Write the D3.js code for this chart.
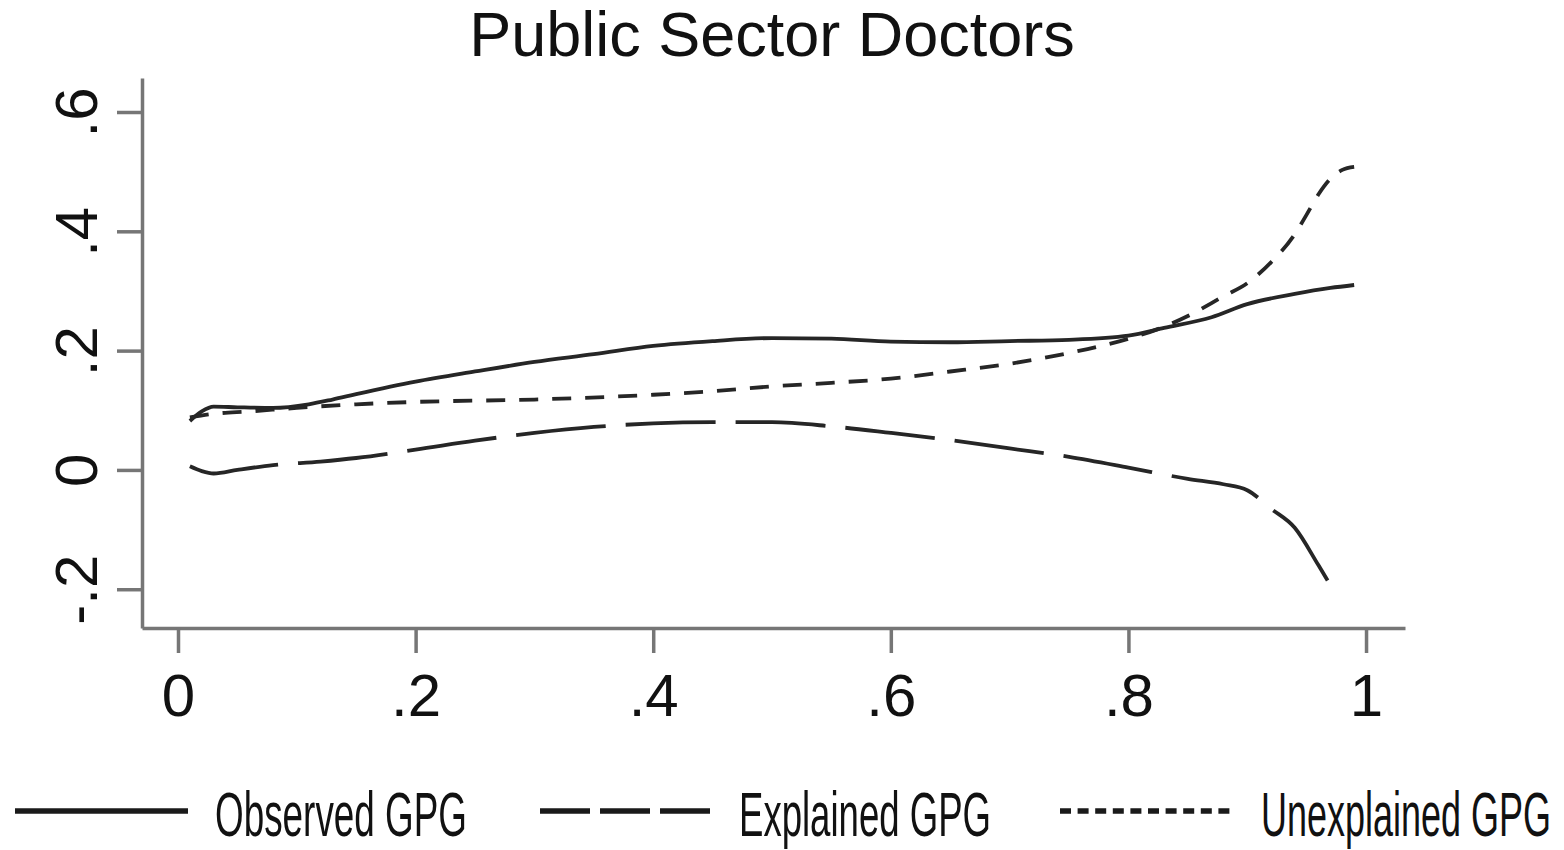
<!DOCTYPE html>
<html>
<head>
<meta charset="utf-8">
<script src="https://cdn.jsdelivr.net/npm/d3@7"></script>
<style>
  html, body { margin: 0; padding: 0; background: #fff; }
  svg { display: block; font-family: "Liberation Sans", Arial, sans-serif; }
</style>
</head>
<body>
<svg id="chart" width="1564" height="850"></svg>
<script>
// ---- Data ----
const title = "Public Sector Doctors";

const obsX = [0.01, 0.02, 0.03, 0.05, 0.08, 0.11, 0.13, 0.15, 0.2, 0.25, 0.3, 0.35, 0.4, 0.45, 0.5, 0.55, 0.6, 0.65, 0.7, 0.75, 0.8, 0.83, 0.87, 0.9, 0.94, 0.97, 0.99];
const obsY = [0.082, 0.098, 0.106, 0.105, 0.104, 0.110, 0.118, 0.127, 0.148, 0.165, 0.181, 0.194, 0.208, 0.216, 0.221, 0.220, 0.215, 0.214, 0.216, 0.218, 0.225, 0.238, 0.256, 0.278, 0.295, 0.305, 0.310];

const expX = [0.01, 0.02, 0.03, 0.05, 0.08, 0.12, 0.15, 0.2, 0.25, 0.3, 0.35, 0.4, 0.45, 0.5, 0.55, 0.6, 0.65, 0.7, 0.75, 0.8, 0.85, 0.88, 0.9, 0.92, 0.94, 0.96, 0.975];
const expY = [0.006, -0.002, -0.006, 0.000, 0.008, 0.014, 0.020, 0.034, 0.049, 0.062, 0.072, 0.078, 0.080, 0.080, 0.073, 0.062, 0.050, 0.036, 0.022, 0.004, -0.015, -0.024, -0.034, -0.065, -0.097, -0.160, -0.210];

const unexpX = [0.01, 0.03, 0.06, 0.1, 0.15, 0.2, 0.3, 0.4, 0.45, 0.5, 0.55, 0.6, 0.65, 0.7, 0.75, 0.8, 0.83, 0.85, 0.88, 0.9, 0.92, 0.94, 0.95, 0.96, 0.97, 0.98, 0.99];
const unexpY = [0.088, 0.094, 0.098, 0.104, 0.110, 0.114, 0.118, 0.126, 0.132, 0.140, 0.146, 0.153, 0.165, 0.178, 0.196, 0.220, 0.240, 0.258, 0.291, 0.313, 0.348, 0.395, 0.428, 0.462, 0.488, 0.503, 0.508];

const xTicks = [0, 0.2, 0.4, 0.6, 0.8, 1];
const xTickLabels = ["0", ".2", ".4", ".6", ".8", "1"];
const yTicks = [-0.2, 0, 0.2, 0.4, 0.6];
const yTickLabels = ["-.2", "0", ".2", ".4", ".6"];

const seriesNames = ["Observed GPG", "Explained GPG", "Unexplained GPG"];

// ---- Layout ----
const svg = d3.select("#chart");
const x = d3.scaleLinear().domain([-0.0303, 1.0328]).range([142, 1405]);
const y = d3.scaleLinear().domain([-0.265, 0.657]).range([628, 78]);

const axisColor = "#767676";
const inkColor = "#111";
const lineColor = "#262626";

// Title
svg.append("text")
  .attr("x", 772).attr("y", 56)
  .attr("text-anchor", "middle")
  .attr("font-size", 63)
  .attr("fill", inkColor)
  .text(title);

// X axis
const xAxis = d3.axisBottom(x)
  .tickValues(xTicks)
  .tickFormat((d, i) => xTickLabels[i])
  .tickSize(25)
  .tickSizeOuter(0);
const gx = svg.append("g").attr("transform", "translate(0,628)").call(xAxis);
gx.select(".domain").attr("stroke", axisColor).attr("stroke-width", 3.5);
gx.selectAll(".tick line").attr("stroke", axisColor).attr("stroke-width", 3.5);
gx.selectAll(".tick text")
  .attr("font-size", 60)
  .attr("fill", inkColor)
  .attr("font-family", "Liberation Sans, Arial, sans-serif")
  .attr("dy", null)
  .attr("y", 88);

// Y axis
const yAxis = d3.axisLeft(y)
  .tickValues(yTicks)
  .tickFormat((d, i) => yTickLabels[i])
  .tickSize(25)
  .tickSizeOuter(0);
const gy = svg.append("g").attr("transform", "translate(142,0)").call(yAxis);
gy.select(".domain").attr("stroke", axisColor).attr("stroke-width", 3.5);
gy.selectAll(".tick line").attr("stroke", axisColor).attr("stroke-width", 3.5);
gy.selectAll(".tick text")
  .attr("font-size", 60)
  .attr("fill", inkColor)
  .attr("font-family", "Liberation Sans, Arial, sans-serif")
  .attr("x", -45)
  .attr("y", 0)
  .attr("dy", null)
  .attr("text-anchor", "middle")
  .attr("transform", "rotate(-90 -45 0)");

// Lines
const line = d3.line()
  .x(d => x(d[0]))
  .y(d => y(d[1]))
  .curve(d3.curveMonotoneX);

const series = [
  { xs: obsX, ys: obsY, dash: null },
  { xs: expX, ys: expY, dash: "90,20" },
  { xs: unexpX, ys: unexpY, dash: "19,14" }
];

series.forEach(s => {
  const pts = s.xs.map((v, i) => [v, s.ys[i]]);
  svg.append("path")
    .datum(pts)
    .attr("d", line)
    .attr("fill", "none")
    .attr("stroke", lineColor)
    .attr("stroke-width", 3.8)
    .attr("stroke-linejoin", "round")
    .attr("stroke-dasharray", s.dash);
});

// Legend (condensed text via horizontal scale)
const legendItems = [
  { x1: 15, x2: 188, dash: null, tx: 215, tw: 252 },
  { x1: 540, x2: 710, dash: "50,10", tx: 739, tw: 252 },
  { x1: 1060, x2: 1230, dash: "11,6.6", tx: 1261, tw: 290 }
];
legendItems.forEach((it, i) => {
  svg.append("line")
    .attr("x1", it.x1).attr("x2", it.x2)
    .attr("y1", 811).attr("y2", 811)
    .attr("stroke", "#1a1a1a")
    .attr("stroke-width", 5.5)
    .attr("stroke-dasharray", it.dash);
  const t = svg.append("text")
    .attr("x", 0).attr("y", 0)
    .attr("font-size", 63)
    .attr("fill", inkColor)
    .text(seriesNames[i]);
  const natural = t.node().getComputedTextLength();
  const sx = it.tw / natural;
  t.attr("transform", `translate(${it.tx},836) scale(${sx},1)`);
});
</script>
</body>
</html>
